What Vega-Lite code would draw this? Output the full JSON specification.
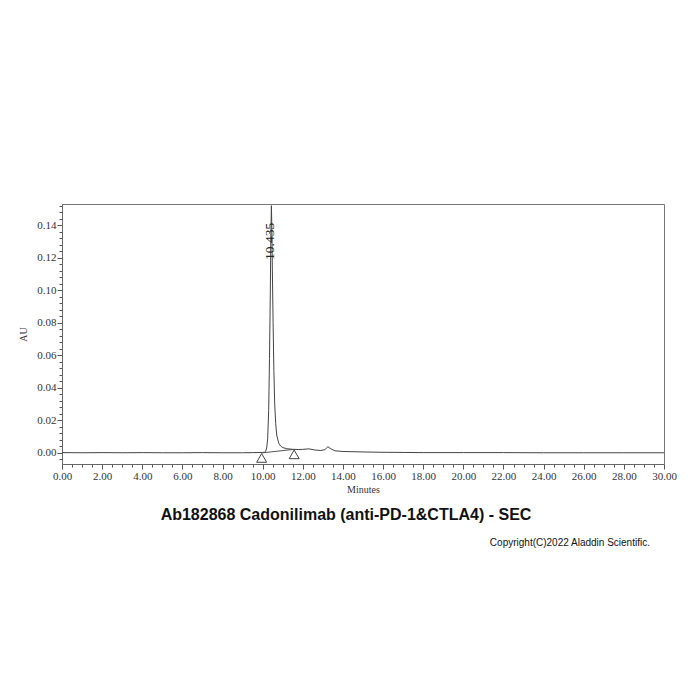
{
  "$schema": "https://vega.github.io/schema/vega-lite/v6.json",
  "width": 602,
  "height": 260,
  "autosize": "none",
  "padding": {"left": 62, "top": 204, "right": 36, "bottom": 236},
  "background": "white",
  "title": {
    "text": "Ab182868 Cadonilimab (anti-PD-1&CTLA4) - SEC",
    "orient": "bottom",
    "anchor": "middle",
    "font": "Liberation Sans",
    "fontWeight": "bold",
    "fontSize": 16,
    "color": "#111",
    "offset": -41,
    "dx": -17
  },
  "datasets": {
    "trace": [
      {"t": 0, "au": 0.0002}, {"t": 1, "au": 0.0001}, {"t": 2, "au": 0.0002},
      {"t": 3, "au": 0.0001}, {"t": 4, "au": 0.0002}, {"t": 5, "au": 0.0001},
      {"t": 6, "au": 0.0001}, {"t": 7, "au": 0.0002}, {"t": 8, "au": 0.0001},
      {"t": 9, "au": 0.0001}, {"t": 9.5, "au": 0.0002}, {"t": 10.0, "au": 0.0003},
      {"t": 10.1, "au": 0.0005}, {"t": 10.15, "au": 0.001}, {"t": 10.2, "au": 0.003},
      {"t": 10.25, "au": 0.009}, {"t": 10.3, "au": 0.026}, {"t": 10.34, "au": 0.058},
      {"t": 10.38, "au": 0.097}, {"t": 10.41, "au": 0.135}, {"t": 10.435, "au": 0.152},
      {"t": 10.455, "au": 0.14}, {"t": 10.48, "au": 0.115}, {"t": 10.52, "au": 0.08},
      {"t": 10.56, "au": 0.05}, {"t": 10.6, "au": 0.03}, {"t": 10.65, "au": 0.018},
      {"t": 10.7, "au": 0.011}, {"t": 10.8, "au": 0.006}, {"t": 10.9, "au": 0.0042},
      {"t": 11.0, "au": 0.0033}, {"t": 11.2, "au": 0.0026}, {"t": 11.5, "au": 0.0022},
      {"t": 11.8, "au": 0.0021}, {"t": 12.0, "au": 0.0022}, {"t": 12.3, "au": 0.0025},
      {"t": 12.6, "au": 0.0018}, {"t": 12.9, "au": 0.0015}, {"t": 13.1, "au": 0.002},
      {"t": 13.25, "au": 0.0038}, {"t": 13.4, "au": 0.0025}, {"t": 13.6, "au": 0.0013},
      {"t": 14.0, "au": 0.0009}, {"t": 15.0, "au": 0.0006}, {"t": 16.0, "au": 0.0004},
      {"t": 17.0, "au": 0.0003}, {"t": 18, "au": 0.0002}, {"t": 20, "au": 0.0002},
      {"t": 22, "au": 0.0002}, {"t": 24, "au": 0.0001}, {"t": 26, "au": 0.0001},
      {"t": 28, "au": 0.0001}, {"t": 30, "au": 0.0001}
    ],
    "baseline": [
      {"t": 9.95, "au": 0.0},
      {"t": 11.57, "au": 0.0022}
    ],
    "peak": [
      {"t": 10.36, "au": 0.13, "label": "10.435"}
    ],
    "note": [
      {"t": 29.3, "au": -0.0555, "label": "Copyright(C)2022 Aladdin Scientific."}
    ]
  },
  "layer": [
    {
      "data": {"name": "trace"},
      "mark": {"type": "line", "color": "#444", "strokeWidth": 1},
      "encoding": {
        "x": {
          "field": "t",
          "type": "quantitative",
          "scale": {"domain": [0, 30], "nice": false, "zero": false},
          "axis": {
            "title": "Minutes",
            "values": [0, 0.5, 1, 1.5, 2, 2.5, 3, 3.5, 4, 4.5, 5, 5.5, 6, 6.5, 7, 7.5, 8, 8.5, 9, 9.5, 10, 10.5, 11, 11.5, 12, 12.5, 13, 13.5, 14, 14.5, 15, 15.5, 16, 16.5, 17, 17.5, 18, 18.5, 19, 19.5, 20, 20.5, 21, 21.5, 22, 22.5, 23, 23.5, 24, 24.5, 25, 25.5, 26, 26.5, 27, 27.5, 28, 28.5, 29, 29.5, 30],
            "tickCount": 1000,
            "labelExpr": "datum.value % 2 == 0 ? format(datum.value, '.2f') : ''",
            "tickSize": {"condition": {"test": "datum.value % 2 == 0", "value": 5}, "value": 3},
            "labelOverlap": false,
            "labelFlush": false,
            "grid": false
          }
        },
        "y": {
          "field": "au",
          "type": "quantitative",
          "scale": {"domain": [-0.0068, 0.153], "nice": false, "zero": false},
          "axis": {
            "title": "AU",
            "values": [-0.004, 0, 0.004, 0.008, 0.012, 0.016, 0.02, 0.024, 0.028, 0.032, 0.036, 0.04, 0.044, 0.048, 0.052, 0.056, 0.06, 0.064, 0.068, 0.072, 0.076, 0.08, 0.084, 0.088, 0.092, 0.096, 0.1, 0.104, 0.108, 0.112, 0.116, 0.12, 0.124, 0.128, 0.132, 0.136, 0.14, 0.144, 0.148, 0.152],
            "tickCount": 1000,
            "labelExpr": "abs(datum.value * 50 - round(datum.value * 50)) < 0.01 ? format(datum.value, '.2f') : ''",
            "tickSize": {"condition": {"test": "abs(datum.value * 50 - round(datum.value * 50)) < 0.01", "value": 5}, "value": 3},
            "labelOverlap": false,
            "labelFlush": false,
            "grid": false
          }
        }
      }
    },
    {
      "data": {"name": "baseline"},
      "mark": {"type": "line", "color": "#555", "strokeWidth": 1},
      "encoding": {
        "x": {"field": "t", "type": "quantitative"},
        "y": {"field": "au", "type": "quantitative"}
      }
    },
    {
      "data": {"name": "baseline"},
      "mark": {"type": "point", "shape": "triangle-up", "size": 100, "filled": false, "color": "#444", "strokeWidth": 1, "fill": "white", "fillOpacity": 1, "yOffset": 5},
      "encoding": {
        "x": {"field": "t", "type": "quantitative"},
        "y": {"field": "au", "type": "quantitative"}
      }
    },
    {
      "data": {"name": "peak"},
      "mark": {"type": "text", "angle": 270, "font": "Liberation Serif", "fontSize": 13.5, "color": "#222", "align": "center", "baseline": "middle"},
      "encoding": {
        "x": {"field": "t", "type": "quantitative"},
        "y": {"field": "au", "type": "quantitative"},
        "text": {"field": "label"}
      }
    },
    {
      "data": {"name": "note"},
      "mark": {"type": "text", "font": "Liberation Sans", "fontSize": 10, "color": "#111", "align": "right", "baseline": "middle"},
      "encoding": {
        "x": {"field": "t", "type": "quantitative"},
        "y": {"field": "au", "type": "quantitative"},
        "text": {"field": "label"}
      }
    }
  ],
  "config": {
    "view": {"stroke": "#777", "strokeWidth": 1},
    "axis": {
      "labelFont": "Liberation Serif",
      "labelFontSize": 11,
      "labelColor": "#333",
      "titleFont": "Liberation Serif",
      "titleFontSize": 10,
      "titleFontWeight": "normal",
      "titleColor": "#333",
      "domainColor": "#666",
      "tickColor": "#555",
      "labelPadding": 1
    },
    "axisX": {"titlePadding": 3},
    "axisY": {"titlePadding": 8}
  }
}
